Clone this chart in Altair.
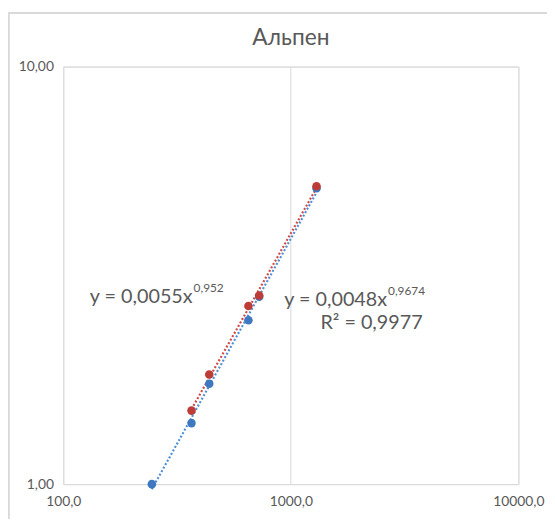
import altair as alt
import pandas as pd

# data
blue_x = [245, 366, 438, 651, 726, 1297]
blue_y = [1.00, 1.40, 1.74, 2.47, 2.81, 5.11]
red_x = [366, 438, 651, 726, 1297]
red_y = [1.50, 1.83, 2.67, 2.83, 5.17]

x_ticks = [100, 1000, 10000]
y_ticks = [1, 10]

title_text = "Альпен"
eq_red_main = "y = 0,0055x"
eq_red_sup = "0,952"
eq_blue_main = "y = 0,0048x"
eq_blue_sup = "0,9674"
eq_blue_r2 = "R² = 0,9977"

blue = pd.DataFrame({"x": blue_x, "y": blue_y})
red = pd.DataFrame({"x": red_x, "y": red_y})

FONT = "Lato"
GREY_TXT = "#595959"
BLUE = "#3d78c0"
RED = "#be3c37"
BLUE_LINE = "#4f8fd6"
RED_LINE = "#d04a45"

xs = alt.Scale(type="log", domain=[100, 10000], nice=False)
ys = alt.Scale(type="log", domain=[1, 10], nice=False)

x_axis = alt.Axis(values=x_ticks, labelExpr="replace(format(datum.value, '.1f'), '.', ',')",
                  ticks=False, domain=False, grid=True, gridColor="#d9d9d9", gridWidth=1,
                  labelFont=FONT, labelFontSize=14, labelColor=GREY_TXT, labelPadding=11,
                  labelFlush=False, labelOverlap=False, title=None)
y_axis = alt.Axis(values=y_ticks, labelExpr="replace(format(datum.value, '.2f'), '.', ',')",
                  ticks=False, domain=False, grid=True, gridColor="#d9d9d9", gridWidth=1,
                  labelFont=FONT, labelFontSize=14, labelColor=GREY_TXT, labelPadding=10,
                  labelFlush=False, labelOverlap=False, title=None)

base_blue = alt.Chart(blue)
base_red = alt.Chart(red)

frame = alt.Chart(blue).mark_rect(fillOpacity=0, stroke="#d9d9d9", strokeWidth=1.5, clip=False).encode(
    x=alt.value(-55.5), x2=alt.value(520), y=alt.value(-54), y2=alt.value(480))

axes_layer = base_blue.mark_point(opacity=0).encode(
    x=alt.X("x:Q", scale=xs, axis=x_axis),
    y=alt.Y("y:Q", scale=ys, axis=y_axis))

blue_trend = base_blue.mark_line(color=BLUE_LINE, strokeWidth=2.2, strokeDash=[2, 2]).encode(
    x=alt.X("x:Q", scale=xs), y=alt.Y("y:Q", scale=ys)
).transform_regression("x", "y", method="pow")

red_trend = base_red.mark_line(color=RED_LINE, strokeWidth=2.2, strokeDash=[2, 2]).encode(
    x=alt.X("x:Q", scale=xs), y=alt.Y("y:Q", scale=ys)
).transform_regression("x", "y", method="pow")

blue_pts = base_blue.mark_circle(color=BLUE, size=75, opacity=1).encode(
    x=alt.X("x:Q", scale=xs), y=alt.Y("y:Q", scale=ys))
red_pts = base_red.mark_circle(color=RED, size=75, opacity=1).encode(
    x=alt.X("x:Q", scale=xs), y=alt.Y("y:Q", scale=ys))


def label(text, x, y, size, align="left"):
    return alt.Chart(pd.DataFrame({"t": [text]})).mark_text(
        font=FONT, fontSize=size, color=GREY_TXT, align=align, baseline="alphabetic"
    ).encode(text="t:N", x=alt.value(x), y=alt.value(y))


title = alt.Chart(pd.DataFrame({"t": [title_text]})).mark_text(
    font=FONT, fontSize=23, color=GREY_TXT, align="center", baseline="middle"
).encode(text="t:N", x=alt.value(230.5), y=alt.value(-29))

annotations = [
    label(eq_red_main, 131, 240, 20, "right"),
    label(eq_red_sup, 132, 228, 12, "left"),
    label(eq_blue_main, 328, 243, 20, "right"),
    label(eq_blue_sup, 329, 231, 12, "left"),
    label(eq_blue_r2, 364, 266, 20, "right"),
]

chart = alt.layer(
    frame, axes_layer, blue_trend, red_trend, blue_pts, red_pts, title, *annotations
).properties(
    width=461, height=423,
    autosize=alt.AutoSizeParams(type="none"),
    padding={"left": 56, "top": 56, "right": 29, "bottom": 32},
).configure_view(stroke="#d9d9d9", strokeWidth=1).configure(background="white")

chart.save("out.html", embed_options={"renderer": "svg", "actions": False})
